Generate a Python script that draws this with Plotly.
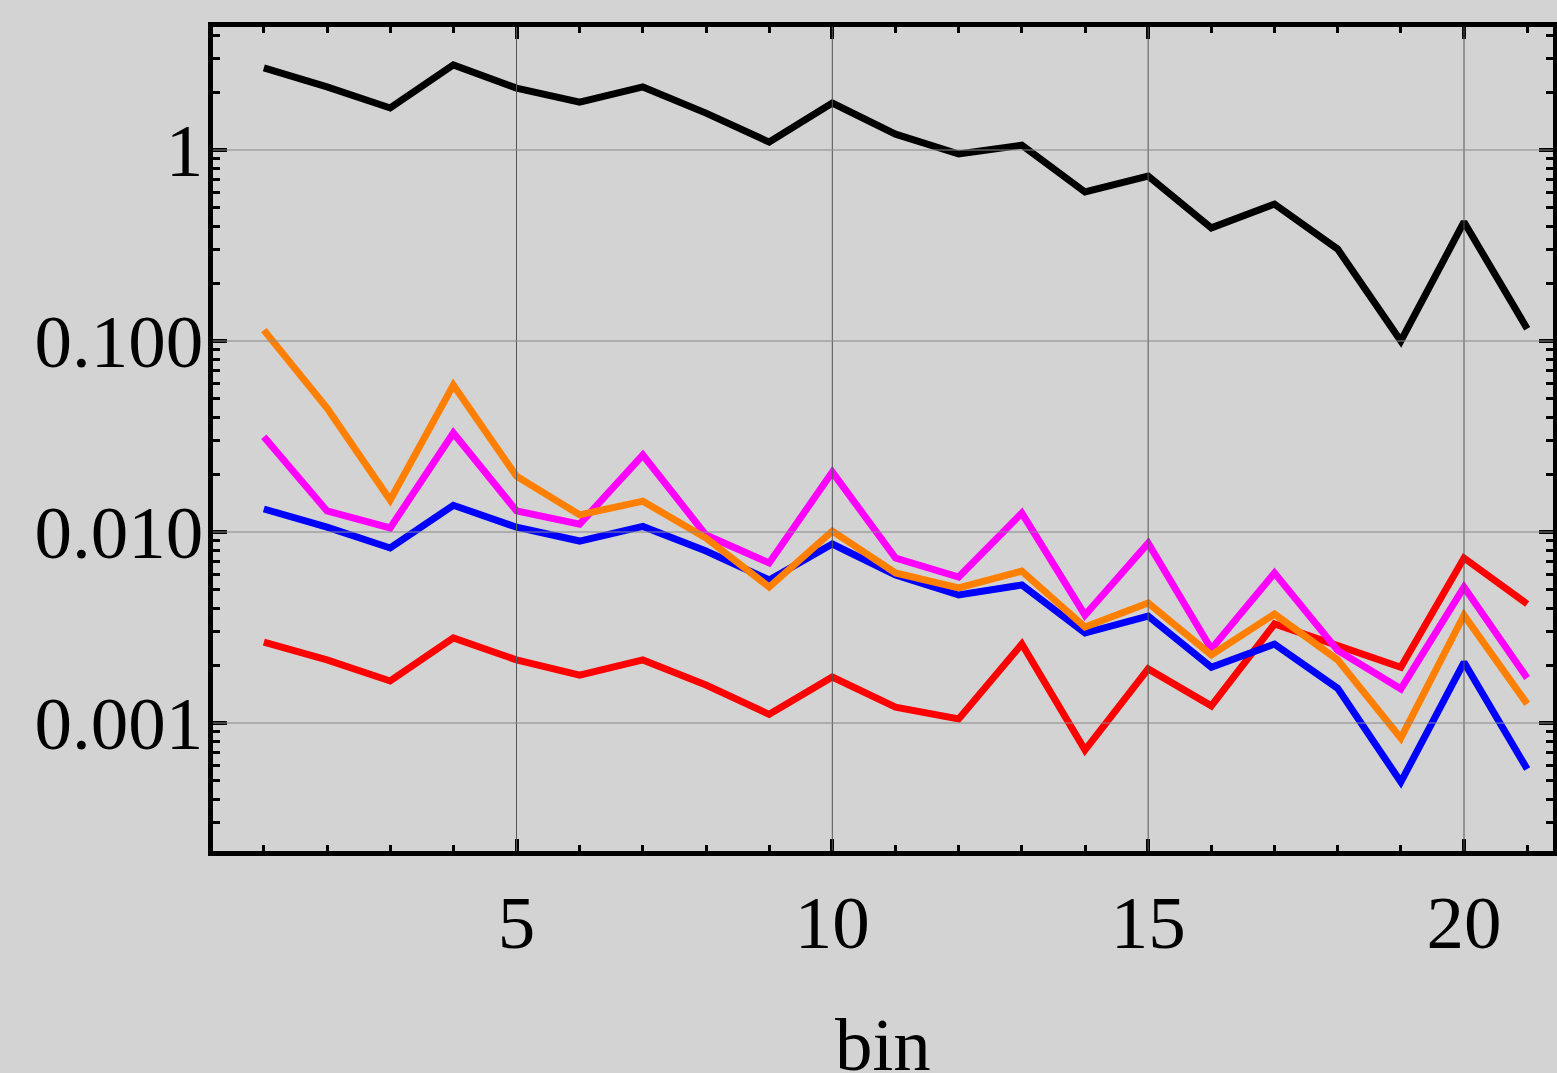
import plotly.graph_objects as go

bins = list(range(1, 22))

black = [2.69, 2.14, 1.66, 2.79, 2.11, 1.78, 2.14, 1.56, 1.10, 1.76, 1.21,
         0.953, 1.06, 0.603, 0.731, 0.391, 0.521, 0.303, 0.100, 0.420, 0.116]
red = [0.00265, 0.00214, 0.00166, 0.00279, 0.00214, 0.00178, 0.00214, 0.00158,
       0.00111, 0.00174, 0.00121, 0.00105, 0.00259, 0.000722, 0.00192, 0.00123,
       0.00330, 0.00256, 0.00196, 0.00731, 0.00420]
magenta = [0.0315, 0.0129, 0.0105, 0.0330, 0.0129, 0.0110, 0.0253, 0.00964,
           0.00689, 0.0206, 0.00731, 0.00581, 0.01257, 0.00367, 0.00875, 0.00244,
           0.00610, 0.00240, 0.00151, 0.00515, 0.00172]
blue = [0.0132, 0.0106, 0.00825, 0.0138, 0.0106, 0.00897, 0.0107, 0.00796,
        0.00561, 0.00865, 0.00596, 0.00468, 0.00528, 0.00296, 0.00363, 0.00196,
        0.00259, 0.00152, 0.000491, 0.00208, 0.000574]
orange = [0.114, 0.0446, 0.0147, 0.0588, 0.0196, 0.0123, 0.0145, 0.0093,
          0.00515, 0.0101, 0.0061, 0.0051, 0.00625, 0.00318, 0.00425, 0.00227,
          0.00372, 0.00214, 0.000834, 0.00367, 0.00126]

y_tickvals = [0.001, 0.01, 0.1, 1]
y_ticktext = ["0.001", "0.010", "0.100", "1"]
x_tickvals = [5, 10, 15, 20]
x_ticktext = ["5", "10", "15", "20"]
y_minor = [m * 10.0 ** e for e in range(-4, 1) for m in range(2, 10)]
x_title = "bin"

series = [
    (black, "#000000"),
    (red, "#FF0000"),
    (magenta, "#FF00FF"),
    (blue, "#0000FF"),
    (orange, "#FF8000"),
]

fig = go.Figure()
for vals, col in series:
    fig.add_trace(go.Scatter(x=bins, y=vals, mode="lines",
                             line=dict(color=col, width=7),
                             showlegend=False))

# gridlines drawn above traces
shapes = []
for xv in x_tickvals:
    shapes.append(dict(type="line", xref="x", yref="paper", x0=xv, x1=xv,
                       y0=0, y1=1, layer="above",
                       line=dict(color="#555555", width=1)))
for yv in y_tickvals:
    shapes.append(dict(type="line", xref="paper", yref="y", x0=0, x1=1,
                       y0=yv, y1=yv, layer="above",
                       line=dict(color="#888888", width=1)))

font_family = "Liberation Serif"

fig.update_layout(
    width=1557, height=1073,
    margin=dict(l=213, r=4, t=27, b=222, autoexpand=False),
    paper_bgcolor="#D3D3D3",
    plot_bgcolor="#D3D3D3",
    font=dict(family=font_family, size=75, color="black"),
    shapes=shapes,
    annotations=[dict(text=x_title, xref="paper", yref="paper", x=0.5, y=0,
                      xanchor="center", yanchor="top", yshift=-150,
                      showarrow=False,
                      font=dict(family=font_family, size=75, color="black"))],
    xaxis=dict(
        automargin=False,
        range=[0.195, 21.409],
        tickmode="array", tickvals=x_tickvals, ticktext=x_ticktext,
        ticks="inside", ticklen=12, tickwidth=4, tickcolor="black",
        showline=True, linewidth=4.5, linecolor="black", mirror="allticks",
        showgrid=False, zeroline=False,
        ticklabelstandoff=2,
        minor=dict(dtick=1, tick0=0, ticks="inside", ticklen=6, tickwidth=3,
                   tickcolor="black", showgrid=False),
        tickfont=dict(family=font_family, size=75, color="black"),
    ),
    yaxis=dict(
        automargin=False,
        type="log",
        range=[-3.670, 0.644],
        tickmode="array", tickvals=y_tickvals, ticktext=y_ticktext,
        ticks="inside", ticklen=14, tickwidth=4, tickcolor="black",
        showline=True, linewidth=4.5, linecolor="black", mirror="allticks",
        showgrid=False, zeroline=False,
        ticklabelstandoff=-10,
        minor=dict(tickmode="array", tickvals=y_minor, ticks="inside", ticklen=7,
                   tickwidth=3, tickcolor="black", showgrid=False),
        tickfont=dict(family=font_family, size=75, color="black"),
    ),
)

fig.write_html(
    "out.html",
    config={"displayModeBar": False},
    post_script="document.body.style.margin='0';document.body.style.overflow='hidden';",
)
